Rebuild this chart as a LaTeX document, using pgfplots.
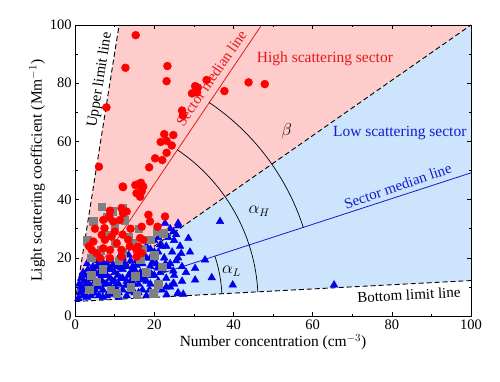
\documentclass[border=0pt]{standalone}
\usepackage{pgfplots}
\pgfplotsset{compat=1.18}
\usepackage{fontspec}
\setmainfont{Liberation Serif}
\definecolor{pinkfill}{RGB}{255,204,204}
\definecolor{bluefill}{RGB}{204,228,252}
\definecolor{myred}{RGB}{230,25,25}
\definecolor{myblue}{RGB}{25,25,210}
\definecolor{ptred}{RGB}{255,0,0}
\definecolor{ptblue}{RGB}{0,0,235}
\definecolor{ptgray}{RGB}{128,128,128}
\begin{document}
\begin{tikzpicture}
\begin{axis}[
  scale only axis, width=396pt, height=291.2pt,
  xmin=0, xmax=100, ymin=0, ymax=100,
  xtick={0,20,...,100}, ytick={0,20,...,100},
  minor x tick num=1, minor y tick num=1,
  tick align=inside,
  major tick length=4pt, minor tick length=2.5pt,
  tick style={black, line width=0.6pt},
  axis line style={black, line width=0.8pt},
  /pgf/number format/assume math mode=true,
  ticklabel style={font=\fontsize{14.5}{16}\selectfont},
  label style={font=\fontsize{15.5}{18}\selectfont},
  xlabel={Number concentration (cm$^{-3}$)},
  ylabel={Light scattering coefficient (Mm$^{-1}$)},
  xlabel style={yshift=2pt},
  ylabel style={yshift=-2pt},
  axis on top,
]
% sector fills
\addplot[fill=pinkfill, draw=none] coordinates {(0,5) (11.1,100) (100,100) (0,5)};
\addplot[fill=bluefill, draw=none] coordinates {(0,5) (100,100) (100,12.2) (0,5)};

% blue triangles
\addplot[only marks, mark=triangle*, mark size=4.4pt, color=ptblue] coordinates {
(0.8,6) (1.2,8) (1.5,10) (2,7) (2.2,12) (2.5,14) (3,9) (3.2,16) (3.5,11) (4,7)
(4,13) (4.5,17) (5,9) (5,15) (5.5,11) (5.8,19) (6,7) (6.3,13) (6.5,16) (7,9)
(7.2,18) (7.5,11) (8,14) (8,7) (8.5,16) (9,10) (9,19) (9.5,12) (10,8) (10,15)
(10.5,17) (11,11) (11,20) (11.5,13) (12,9) (12,16) (12.5,18) (13,7) (13,12) (13.5,21)
(14,10) (14,15) (14.5,17) (15,8) (15,13) (15.5,19) (16,11) (16,22) (16.5,15) (17,9)
(17,18) (17.5,13) (18,7) (18,24) (18.5,16) (19,11) (19,20) (19.5,14) (20,8) (20,26)
(20.5,18) (21,12) (21,22) (21.5,15) (22,9) (22,28) (22.5,20) (23,13) (23,24) (23.5,17)
(24,10) (24,30) (24.5,22) (25,14) (25,26) (25.5,19) (26,8) (26,31) (26.5,24) (27,12)
(27,17) (1,11) (2,15) (3,18) (4,10) (5,12) (6,10) (7,14) (8,11) (9,16)
(10,12) (11,8) (12,13) (13,17) (14,12) (15,16) (16,8) (17,14) (18,12) (19,17)
(20,14) (21,10) (22,16) (23,10) (24,18) (25,11) (26,20) (20,22) (18,20) (22,24)
(14,19) (12,20) (8,18) (6,18) (4,16) (2,9) (3,6.5) (22.7,31.9) (24.8,29) (26,31.9)
(28.6,26.7) (30.3,16.4) (32.8,19.3) (36.6,32.5) (34.5,13.2) (30.3,12.4) (39.8,10.7) (24.8,11.3) (27.3,7.5) (25.9,7.7)
(23.1,7.3) (65.4,10.7) (29,22) (28,15) (21,27) (19,23) (1.5,13) (7,6.5) (9,7.5) (11,6.5)
(2.8,11) (3.8,14.5) (4.8,8) (6.8,12) (8.8,13) (10.8,14) (12.8,10.5) (14.8,11) (16.8,12.5) (18.8,9)
(20.8,16.5) (22.8,18) (24.8,15.5) (26.8,21.5) (23.5,27) (25.5,28) (21.5,24.5) (19.5,18.5) (17.5,20.5) (15.5,17.5)
(13.5,14) (11.5,16.5) (9.5,17.5) (7.5,16) (5.5,17) (3.5,13) (1.8,9.5) (6,14.5) (10,10) (14,8.5)
};
% gray squares
\addplot[only marks, mark=square*, mark size=3.8pt, color=ptgray] coordinates {
(6.7,37.6) (4.6,32.5) (8,34) (13.4,27.3) (14.5,25) (20.6,29) (22.2,28.5) (18.9,26.2) (10,25) (6.5,22.7)
(4,20) (11,19) (15.1,13.6) (15.5,7.3) (19.7,7.9) (10.5,7.9) (9,9) (5.4,11.8) (4,14) (16.4,19.3)
(12,22) (17,23) (20,21) (8,28) (10,31) (12.5,33) (3,26) (22,17) (14,10) (18,15)
(7,16) (3.5,9) (21,11) (12,37) (16,30) (9.5,36)
};
% red circles
\addplot[only marks, mark=*, mark size=4pt, color=ptred] coordinates {
(15.3,96.5) (12.7,85.3) (23.3,85.9) (23.1,80.7) (33.2,81.1) (29.5,76.5) (30.3,79) (31,78.5) (30.8,76.8) (37.7,77.3)
(43.8,80.3) (47.9,79.7) (7.9,71.7) (27,70.6) (27.2,68.9) (22.5,62.5) (24.8,62.2) (21.6,59.8) (23.1,60.2) (24.4,58.6)
(23.1,56.1) (20.2,54.2) (22,53.6) (18.7,51.1) (6,51.3) (12,44.5) (15.2,45) (16.6,45.8) (17.2,44.5) (12.1,44.3)
(15.9,45.3) (16.8,44.3) (15.5,42.2) (16.4,41) (16.8,42.8) (11.7,37) (12.1,35.3) (11.3,33) (13,35.9) (8.8,36.2)
(8.6,34.2) (7.1,33) (9.6,32.5) (7.4,30.2) (6.7,27.9) (7.5,26.2) (9.2,27.3) (4.6,25.6) (4.2,22.7) (5.4,21.6)
(7.1,23.3) (8.8,22.7) (11.7,20.4) (11.7,22.7) (8.8,19.9) (6.3,19.9) (18.5,34.8) (18.9,32.5) (20.8,30.7) (22.7,34.2)
(16.8,30.7) (16.4,26.8) (17.2,26.2) (15.9,23.9) (15.5,22.7) (16.8,21.6) (15.5,20.4) (13.8,23.9) (13.4,26.2) (10,29)
(5,30) (3.5,24) (10.5,25) (14,30) (12,28)
};

% limit and median lines
\addplot[black, line width=0.9pt, dash pattern=on 5pt off 3pt] coordinates {(0,5) (11.1,100)};
\addplot[black, line width=0.9pt, dash pattern=on 5pt off 3pt] coordinates {(0,5) (100,100)};
\addplot[black, line width=0.9pt, dash pattern=on 5pt off 3pt] coordinates {(0,5) (100,12.2)};
\addplot[myred, line width=0.8pt] coordinates {(0,5) (47.1,100)};
\addplot[myblue, line width=0.8pt] coordinates {(0,5) (100,49.2)};

% angle arcs
\draw[black, line width=0.7pt] (axis cs:0,5) ++(2.95:147pt) arc[start angle=2.95, end angle=17.93, radius=147pt];
\draw[black, line width=0.7pt] (axis cs:0,5) ++(2.95:183pt) arc[start angle=2.95, end angle=56.07, radius=183pt];
\draw[black, line width=0.7pt] (axis cs:0,5) ++(17.93:240pt) arc[start angle=17.93, end angle=56.07, radius=240pt];

% annotations
\node[myred, font=\fontsize{15.5}{18}\selectfont] at (axis cs:63.1,88.3) {High scattering sector};
\node[myblue, font=\fontsize{15.5}{18}\selectfont] at (axis cs:82,62.8) {Low scattering sector};
\node[myblue, rotate=19, font=\fontsize{15}{18}\selectfont] at (axis cs:81.5,44.7) {Sector median line};
\node[myred, rotate=55.5, font=\fontsize{15}{18}\selectfont] at (axis cs:34.4,81.8) {Sector median line};
\node[black, rotate=81, font=\fontsize{15}{18}\selectfont] at (axis cs:6.3,81.1) {Upper limit line};
\node[black, rotate=3, font=\fontsize{15}{18}\selectfont] at (axis cs:84.3,7.3) {Bottom limit line};
\node[font=\fontsize{16}{18}\selectfont] at (axis cs:46.5,36.1) {$\alpha_H$};
\node[font=\fontsize{16}{18}\selectfont] at (axis cs:39.5,15.3) {$\alpha_L$};
\node[font=\fontsize{16}{18}\selectfont] at (axis cs:53.4,63.4) {$\beta$};
\end{axis}
\pgfresetboundingbox
\path ([shift={(-75.2pt,-65.8pt)}]current axis.south west) rectangle ([shift={(29pt,25pt)}]current axis.north east);
\end{tikzpicture}
\end{document}
